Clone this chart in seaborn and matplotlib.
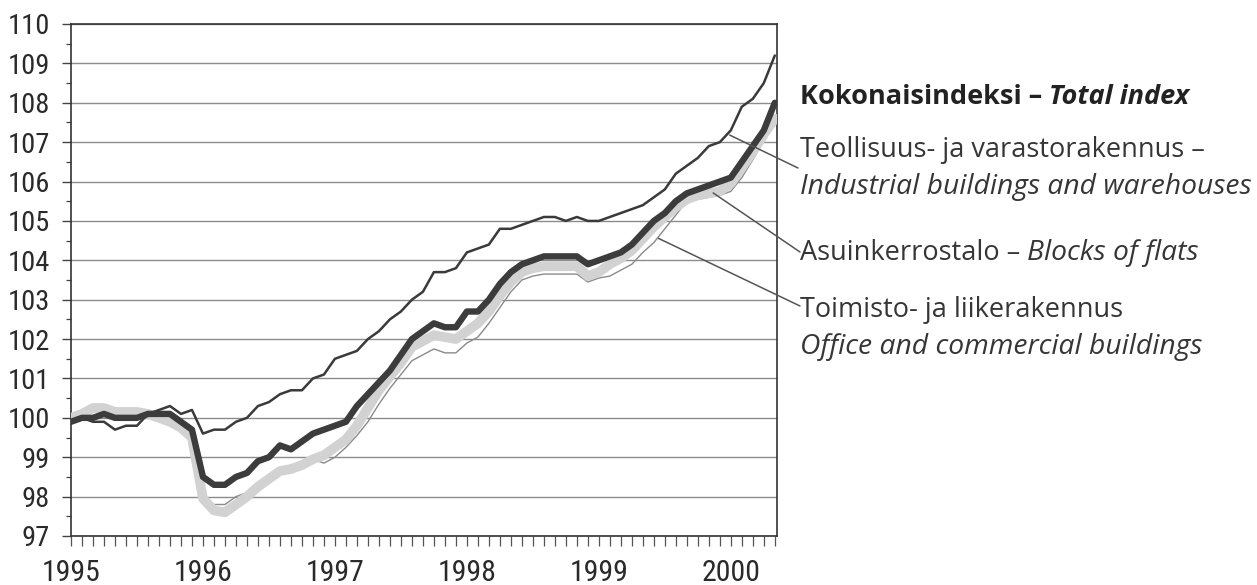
import numpy as np
import pandas as pd
import matplotlib
matplotlib.use("Agg")
import matplotlib.pyplot as plt
import seaborn as sns
from matplotlib.ticker import MultipleLocator

# ---------------- data (monthly, Jan 1995 - May 2000) ----------------
months = pd.date_range("1995-01-01", periods=65, freq="MS")

industrial = [99.9, 100.0, 99.9, 99.9, 99.7, 99.8, 99.8, 100.1, 100.2, 100.3, 100.1, 100.2,
              99.6, 99.7, 99.7, 99.9, 100.0, 100.3, 100.4, 100.6, 100.7, 100.7, 101.0, 101.1,
              101.5, 101.6, 101.7, 102.0, 102.2, 102.5, 102.7, 103.0, 103.2, 103.7, 103.7, 103.8,
              104.2, 104.3, 104.4, 104.8, 104.8, 104.9, 105.0, 105.1, 105.1, 105.0, 105.1, 105.0,
              105.0, 105.1, 105.2, 105.3, 105.4, 105.6, 105.8, 106.2, 106.4, 106.6, 106.9, 107.0,
              107.3, 107.9, 108.1, 108.5, 109.2]

total = [99.9, 100.0, 100.0, 100.1, 100.0, 100.0, 100.0, 100.1, 100.1, 100.1, 99.9, 99.7,
         98.5, 98.3, 98.3, 98.5, 98.6, 98.9, 99.0, 99.3, 99.2, 99.4, 99.6, 99.7,
         99.8, 99.9, 100.3, 100.6, 100.9, 101.2, 101.6, 102.0, 102.2, 102.4, 102.3, 102.3,
         102.7, 102.7, 103.0, 103.4, 103.7, 103.9, 104.0, 104.1, 104.1, 104.1, 104.1, 103.9,
         104.0, 104.1, 104.2, 104.4, 104.7, 105.0, 105.2, 105.5, 105.7, 105.8, 105.9, 106.0,
         106.1, 106.5, 106.9, 107.3, 108.0]

flats = [100.0, 100.1, 100.25, 100.25, 100.15, 100.15, 100.15, 100.1, 100.0, 99.9, 99.75, 99.5,
         97.95, 97.65, 97.6, 97.8, 98.0, 98.25, 98.45, 98.65, 98.7, 98.8, 98.95, 99.05,
         99.25, 99.45, 99.8, 100.25, 100.7, 101.05, 101.4, 101.8, 101.95, 102.1, 102.05, 102.0,
         102.2, 102.4, 102.7, 103.1, 103.45, 103.7, 103.8, 103.85, 103.85, 103.85, 103.85, 103.6,
         103.7, 103.9, 104.05, 104.25, 104.55, 104.85, 105.1, 105.35, 105.55, 105.65, 105.7, 105.75,
         105.95, 106.35, 106.75, 107.2, 107.6]

office = [100.0, 100.1, 100.2, 100.2, 100.1, 100.1, 100.1, 100.1, 100.0, 99.9, 99.7, 99.5,
          97.9, 97.8, 97.8, 98.0, 98.1, 98.3, 98.5, 98.6, 98.7, 98.8, 98.95, 98.85,
          99.0, 99.25, 99.55, 99.9, 100.35, 100.75, 101.1, 101.45, 101.6, 101.75, 101.65, 101.65,
          101.9, 102.05, 102.4, 102.8, 103.2, 103.5, 103.6, 103.65, 103.65, 103.65, 103.65, 103.45,
          103.55, 103.6, 103.75, 103.9, 104.2, 104.45, 104.8, 105.15, 105.5, 105.55, 105.6, 105.65,
          105.75, 106.1, 106.55, 107.05, 107.6]

year_ticks = [1995, 1996, 1997, 1998, 1999, 2000]
y_ticks = list(range(97, 111))

label_total = ("Kokonaisindeksi – ", "Total index")
label_ind = ("Teollisuus- ja varastorakennus –", "Industrial buildings and warehouses")
label_flats = ("Asuinkerrostalo – ", "Blocks of flats")
label_office = ("Toimisto- ja liikerakennus", "Office and commercial buildings")

# ---------------- figure ----------------
sns.set_theme(style="white")
cond = ["Roboto Condensed", "Barlow Semi Condensed", "Archivo Narrow", "PT Sans Narrow",
        "Fira Sans Condensed", "DejaVu Sans"]
plt.rcParams["font.family"] = cond

W, H = 1257, 585
fig = plt.figure(figsize=(W / 100, H / 100), dpi=100)
ax = fig.add_axes([71 / W, 1 - 536 / H, (777 - 71) / W, (536 - 24) / H])

xdec = months.year + (months.month - 1) / 12.0
df = pd.DataFrame({"x": xdec, "industrial": industrial, "total": total,
                   "flats": flats, "office": office})

sns.lineplot(data=df, x="x", y="office", ax=ax, color="#8a8a8a", lw=1.0, zorder=3)
sns.lineplot(data=df, x="x", y="flats", ax=ax, color="#d2d2d2", lw=7.0, zorder=4)
sns.lineplot(data=df, x="x", y="industrial", ax=ax, color="#3a3a3a", lw=1.8, zorder=5)
sns.lineplot(data=df, x="x", y="total", ax=ax, color="#3c3c3c", lw=4.6, zorder=6)

ax.set_xlim(1995, 1995 + 64.2 / 12)
ax.set_ylim(97, 110)
ax.set_xlabel("")
ax.set_ylabel("")

ax.set_yticks(y_ticks)
ax.yaxis.set_minor_locator(MultipleLocator(0.5))
ax.grid(axis="y", which="major", color="#8c8c8c", lw=1.0, zorder=1)
ax.set_axisbelow(True)

ax.set_xticks(year_ticks)
ax.set_xticklabels([str(y) for y in year_ticks])
ax.xaxis.set_minor_locator(MultipleLocator(1 / 12))

ax.tick_params(axis="y", which="major", direction="out", length=6.5, width=1.0,
               color="#444444", labelsize=20.5, pad=8.5, left=True, labelcolor="#2a2a2a")
ax.tick_params(axis="y", which="minor", direction="out", length=3.5, width=0.9,
               color="#444444", left=True)
ax.tick_params(axis="x", which="both", direction="out", length=7, width=0.9,
               color="#555555", bottom=True)
ax.tick_params(axis="x", which="major", labelsize=21.5, pad=9.5, labelcolor="#2a2a2a")

for s in ax.spines.values():
    s.set_visible(True)
    s.set_color("#333333")
    s.set_linewidth(1.2)

# ---------------- annotations ----------------
tx = 800 / W
tfam = ["Open Sans", "Roboto", "DejaVu Sans"]
fs = 19.5
fsi = 20.3
tcol = "#363636"

def fy(py):
    return 1 - py / H

t = fig.text(tx, fy(97), label_total[0], fontsize=fs, fontweight="bold", family=tfam,
             color="#222222", va="center", ha="left")
fig.canvas.draw()
bb = t.get_window_extent()
fig.text(bb.x1 / W, fy(97), label_total[1], fontsize=fs, fontweight="bold", style="italic",
         family=tfam, color="#222222", va="center", ha="left")

fig.text(tx, fy(150), label_ind[0], fontsize=fs, family=tfam,
         color=tcol, va="center", ha="left")
fig.text(tx, fy(187), label_ind[1], fontsize=fsi, family=tfam,
         style="italic", color=tcol, va="center", ha="left")

t2 = fig.text(tx, fy(253), label_flats[0], fontsize=fs, family=tfam,
              color=tcol, va="center", ha="left")
fig.canvas.draw()
bb2 = t2.get_window_extent()
fig.text(bb2.x1 / W, fy(253), label_flats[1], fontsize=fsi, family=tfam,
         style="italic", color=tcol, va="center", ha="left")

fig.text(tx, fy(310), label_office[0], fontsize=fs, family=tfam,
         color=tcol, va="center", ha="left")
fig.text(tx, fy(347), label_office[1], fontsize=fsi, family=tfam,
         style="italic", color=tcol, va="center", ha="left")

def leader(month_pos, val, px, py):
    ax.annotate("", xy=(1995 + month_pos / 12, val), xycoords="data",
                xytext=(px / W, fy(py)), textcoords="figure fraction",
                arrowprops=dict(arrowstyle="-", color="#555555", lw=1.1,
                                shrinkA=0, shrinkB=0),
                annotation_clip=False, zorder=7)

leader(59.9, 107.18, 798, 168)
leader(58.4, 105.71, 800, 252)
leader(53.4, 104.56, 800, 306)

fig.savefig("out.png", dpi=100)
